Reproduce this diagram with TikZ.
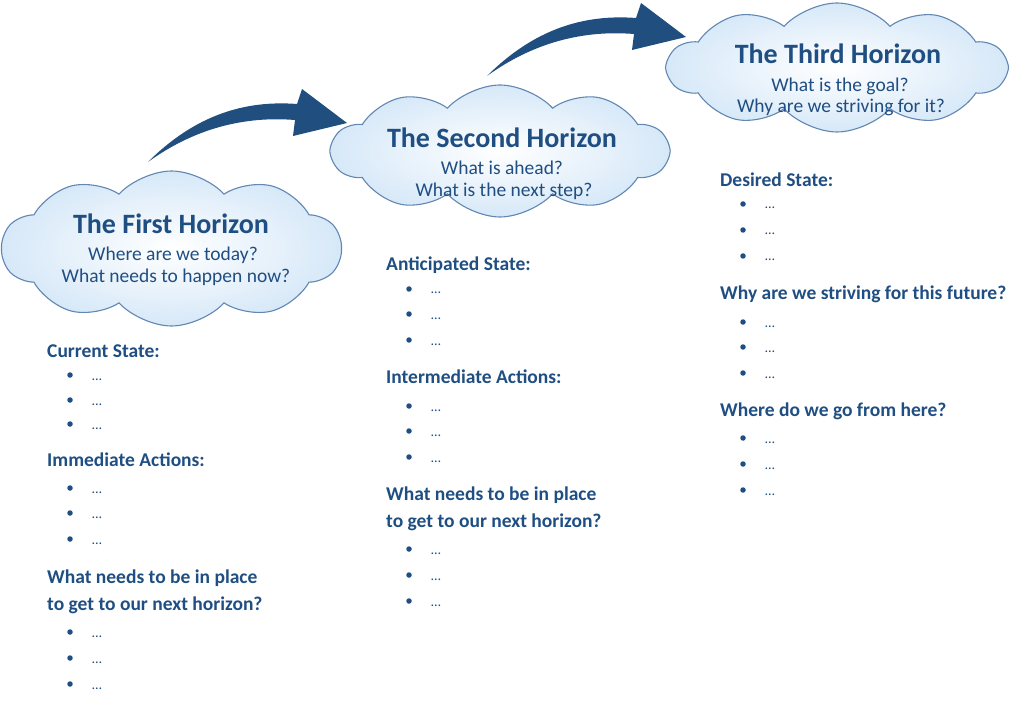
\documentclass[tikz,border=0pt]{standalone}
\usepackage{fontspec}
\setmainfont{Carlito}
\usetikzlibrary{shapes.symbols}
\definecolor{txt}{HTML}{1F4E82}
\definecolor{arr}{HTML}{1F4E7F}
\definecolor{cloudedge}{HTML}{6187B2}
\definecolor{cloudfill}{HTML}{D6E8F8}
\begin{document}
\begin{tikzpicture}[x=1pt,y=-1pt,
  cloudbox/.style={cloud, cloud puffs=10, cloud puff arc=95, cloud ignores aspect, draw=cloudedge, line width=1.1pt, inner color=white, outer color=cloudfill, shade},
  title/.style={font=\fontsize{28}{30}\selectfont\bfseries, text=txt, anchor=base, inner sep=0},
  sub/.style={font=\fontsize{19.5}{22}\selectfont, text=txt, anchor=base, inner sep=0},
  head/.style={font=\fontsize{19.5}{27}\selectfont\bfseries, text=txt, anchor=base west, inner sep=0},
  dots/.style={font=\fontsize{14}{14}\selectfont, text=txt, anchor=base west, inner sep=0},
  bul/.style={circle, fill=txt, inner sep=0, minimum size=5.5pt}]
\useasboundingbox (0,0) rectangle (1024,708);

% clouds
\node[cloudbox, minimum width=339pt, minimum height=155pt] (c1) at (171.5,248.5) {};
\node[cloudbox, minimum width=336pt, minimum height=132pt] (c2) at (500,151) {};
\node[cloudbox, minimum width=338pt, minimum height=129pt] (c3) at (837,67.5) {};

% cloud texts
\node[title] (t1) at (171,234) {The First Horizon};
\node[sub] (s1a) at (173,261) {Where are we today?};
\node[sub] (s1b) at (176,283) {What needs to happen now?};

\node[title] (t2) at (502,148) {The Second Horizon};
\node[sub] (s2a) at (502,175) {What is ahead?};
\node[sub] (s2b) at (504,197) {What is the next step?};

\node[title] (t3) at (838,64) {The Third Horizon};
\node[sub] (s3a) at (840,92) {What is the goal?};
\node[sub] (s3b) at (841,113) {Why are we striving for it?};

% arrows
\fill[arr] (148,162) .. controls (195,115) and (245,100) .. (297,104) -- (302,89) -- (347,123) -- (293,136) -- (295,120) .. controls (245,116) and (195,128) .. (148,162) -- cycle;
\begin{scope}[shift={(339,-86)}]
\fill[arr] (148,162) .. controls (195,115) and (245,100) .. (297,104) -- (302,89) -- (347,123) -- (293,136) -- (295,120) .. controls (245,116) and (195,128) .. (148,162) -- cycle;
\end{scope}

% column 1
\node[head] (h11) at (47,357) {Current State:};
\node[bul] (b111) at (70,375) {}; \node[dots] (d111) at (92,380) {…};
\node[bul] (b112) at (70,400) {}; \node[dots] (d112) at (92,405) {…};
\node[bul] (b113) at (70,424) {}; \node[dots] (d113) at (92,429) {…};
\node[head] (h12) at (47,466) {Immediate Actions:};
\node[bul] (b121) at (70,488) {}; \node[dots] (d121) at (92,493) {…};
\node[bul] (b122) at (70,513) {}; \node[dots] (d122) at (92,518) {…};
\node[bul] (b123) at (70,539) {}; \node[dots] (d123) at (92,544) {…};
\node[head] (h13a) at (47,583) {What needs to be in place};
\node[head] (h13b) at (47,610) {to get to our next horizon?};
\node[bul] (b131) at (70,632) {}; \node[dots] (d131) at (92,637) {…};
\node[bul] (b132) at (70,658) {}; \node[dots] (d132) at (92,663) {…};
\node[bul] (b133) at (70,684) {}; \node[dots] (d133) at (92,689) {…};

% column 2
\node[head] (h21) at (386,271) {Anticipated State:};
\node[bul] (b211) at (409,289) {}; \node[dots] (d211) at (431,294) {…};
\node[bul] (b212) at (409,314) {}; \node[dots] (d212) at (431,319) {…};
\node[bul] (b213) at (409,340) {}; \node[dots] (d213) at (431,345) {…};
\node[head] (h22) at (386,383) {Intermediate Actions:};
\node[bul] (b221) at (409,406) {}; \node[dots] (d221) at (431,411) {…};
\node[bul] (b222) at (409,431) {}; \node[dots] (d222) at (431,436) {…};
\node[bul] (b223) at (409,457) {}; \node[dots] (d223) at (431,462) {…};
\node[head] (h23a) at (386,500) {What needs to be in place};
\node[head] (h23b) at (386,527) {to get to our next horizon?};
\node[bul] (b231) at (409,549) {}; \node[dots] (d231) at (431,554) {…};
\node[bul] (b232) at (409,575) {}; \node[dots] (d232) at (431,580) {…};
\node[bul] (b233) at (409,601) {}; \node[dots] (d233) at (431,606) {…};

% column 3
\node[head] (h31) at (720,187) {Desired State:};
\node[bul] (b311) at (743,204) {}; \node[dots] (d311) at (765,209) {…};
\node[bul] (b312) at (743,230) {}; \node[dots] (d312) at (765,235) {…};
\node[bul] (b313) at (743,256) {}; \node[dots] (d313) at (765,261) {…};
\node[head] (h32) at (720,299) {Why are we striving for this future?};
\node[bul] (b321) at (743,322) {}; \node[dots] (d321) at (765,327) {…};
\node[bul] (b322) at (743,347) {}; \node[dots] (d322) at (765,352) {…};
\node[bul] (b323) at (743,373) {}; \node[dots] (d323) at (765,378) {…};
\node[head] (h33) at (720,416) {Where do we go from here?};
\node[bul] (b331) at (743,438) {}; \node[dots] (d331) at (765,443) {…};
\node[bul] (b332) at (743,464) {}; \node[dots] (d332) at (765,469) {…};
\node[bul] (b333) at (743,490) {}; \node[dots] (d333) at (765,495) {…};
\end{tikzpicture}
\end{document}
